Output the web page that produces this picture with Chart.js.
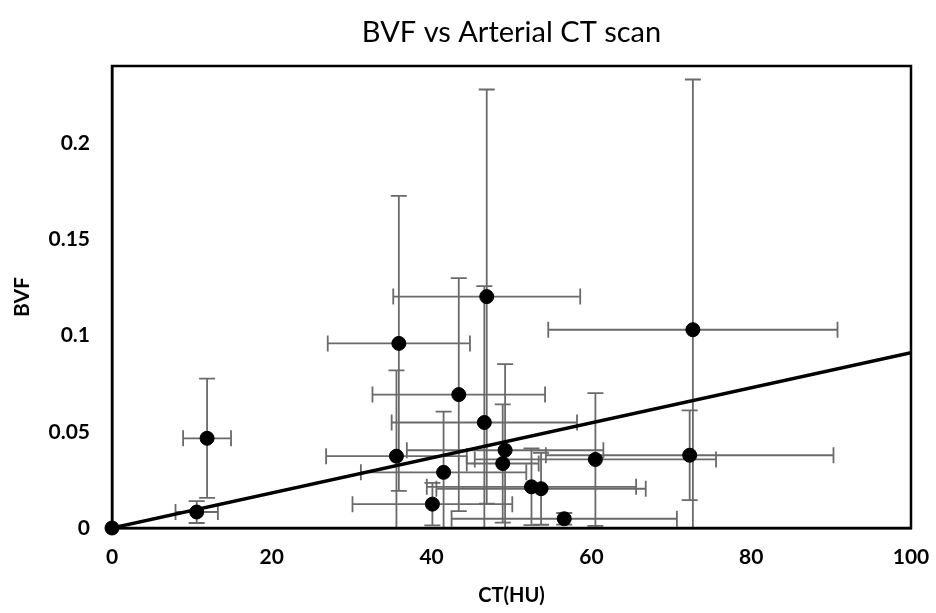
<!DOCTYPE html>
<html>
<head>
  <title>BVF vs Arterial CT scan</title>
  <script src="https://cdn.jsdelivr.net/npm/chart.js"></script>
  <style>
    body { margin: 0; background: #fff; }
    #wrap { width: 936px; height: 613px; }
  </style>
</head>
<body>
<div id="wrap"><canvas id="chart"></canvas></div>
<script>
  // CT (HU) and BVF per sample, with +/- errors
  const ctValues  = [0, 10.6, 11.9, 35.9, 43.4, 46.9, 46.6, 35.6, 41.5, 40.1, 49.2, 48.9, 52.5, 53.7, 56.6, 60.5, 72.3, 72.7];
  const bvfValues = [0, 0.0083, 0.0466, 0.0959, 0.0693, 0.1202, 0.0548, 0.0373, 0.0289, 0.0124, 0.0404, 0.0335, 0.0214, 0.0204, 0.0048, 0.0356, 0.0378, 0.1030];
  const ctErrors  = [0, 2.65, 3.0, 8.9, 10.8, 11.7, 11.6, 8.8, 10.35, 10.0, 12.3, 4.5, 13.1, 13.1, 14.1, 15.1, 18.0, 18.1];
  const bvfErrors = [0, 0.0057, 0.031, 0.0766, 0.0605, 0.1076, 0.0708, 0.0446, 0.0316, 0.011, 0.0447, 0.0307, 0.0199, 0.0187, 0.003, 0.0345, 0.0233, 0.130];

  // linear trend line through origin
  const trendX = [0, 100];
  const trendY = [0, 0.091];

  const xTicks = [0, 20, 40, 60, 80, 100];
  const yTicks = [0, 0.05, 0.1, 0.15, 0.2];

  const TITLE = 'BVF vs Arterial CT scan';
  const FONT = 'Lato, "Open Sans", sans-serif';

  const points = ctValues.map((x, i) => ({ x, y: bvfValues[i] }));
  const trend = trendX.map((x, i) => ({ x, y: trendY[i] }));

  // error bars under the markers
  const errorBars = {
    id: 'errorBars',
    beforeDatasetsDraw(chart) {
      const { ctx, chartArea: a, scales: { x, y } } = chart;
      const cap = 8;
      ctx.save();
      ctx.beginPath();
      ctx.rect(a.left, a.top, a.right - a.left, a.bottom - a.top);
      ctx.clip();
      ctx.strokeStyle = '#6a6a6a';
      ctx.lineWidth = 1.8;
      ctValues.forEach((cx, i) => {
        const px = x.getPixelForValue(cx), py = y.getPixelForValue(bvfValues[i]);
        if (bvfErrors[i]) {
          const t = y.getPixelForValue(bvfValues[i] + bvfErrors[i]);
          const b = y.getPixelForValue(bvfValues[i] - bvfErrors[i]);
          ctx.beginPath();
          ctx.moveTo(px, t); ctx.lineTo(px, b);
          ctx.moveTo(px - cap, t); ctx.lineTo(px + cap, t);
          ctx.moveTo(px - cap, b); ctx.lineTo(px + cap, b);
          ctx.stroke();
        }
        if (ctErrors[i]) {
          const l = x.getPixelForValue(cx - ctErrors[i]);
          const r = x.getPixelForValue(cx + ctErrors[i]);
          ctx.beginPath();
          ctx.moveTo(l, py); ctx.lineTo(r, py);
          ctx.moveTo(l, py - cap); ctx.lineTo(l, py + cap);
          ctx.moveTo(r, py - cap); ctx.lineTo(r, py + cap);
          ctx.stroke();
        }
      });
      ctx.restore();
    }
  };

  // black frame round the plot area, title centred over it
  const frame = {
    id: 'frame',
    beforeDatasetsDraw(chart) {
      const { ctx, chartArea: a } = chart;
      ctx.save();
      ctx.strokeStyle = '#000';
      ctx.lineWidth = 2.5;
      ctx.strokeRect(a.left, a.top, a.right - a.left, a.bottom - a.top);
      ctx.fillStyle = '#000';
      ctx.font = '29px ' + FONT;
      ctx.textAlign = 'center';
      ctx.textBaseline = 'middle';
      ctx.fillText(TITLE, (a.left + a.right) / 2, 33);
      ctx.restore();
    }
  };

  new Chart(document.getElementById('chart'), {
    type: 'scatter',
    data: {
      datasets: [
        {
          label: 'BVF',
          data: points,
          backgroundColor: '#000',
          borderColor: '#000',
          pointRadius: 7,
          pointHoverRadius: 7,
          clip: false,
          order: 1
        },
        {
          label: 'Trend',
          type: 'line',
          data: trend,
          borderColor: '#000',
          borderWidth: 3.5,
          pointRadius: 0,
          fill: false,
          order: 2
        }
      ]
    },
    options: {
      responsive: true,
      maintainAspectRatio: false,
      animation: false,
      layout: { padding: { left: 0, right: 25, top: 66, bottom: 0 } },
      plugins: {
        legend: { display: false },
        tooltip: { enabled: false },
        title: { display: false }
      },
      scales: {
        x: {
          type: 'linear',
          min: 0, max: 100,
          afterBuildTicks: s => { s.ticks = xTicks.map(v => ({ value: v })); },
          afterFit: s => { s.height = 85; s.paddingLeft = 0; s.paddingRight = 0; },
          grid: { display: false, drawTicks: false },
          border: { display: true, color: '#000', width: 2.5 },
          ticks: { color: '#000', padding: 17, font: { family: FONT, size: 21, weight: 'bold' } },
          title: {
            display: true, text: 'CT(HU)', color: '#000',
            font: { family: FONT, size: 20, weight: 'bold' },
            padding: { top: 4, bottom: 5 }
          }
        },
        y: {
          type: 'linear',
          min: 0, max: 0.24,
          afterBuildTicks: s => { s.ticks = yTicks.map(v => ({ value: v })); },
          afterFit: s => { s.width = 112; s.paddingTop = 0; s.paddingBottom = 0; },
          grid: { display: false, drawTicks: false },
          border: { display: true, color: '#000', width: 2.5 },
          ticks: {
            color: '#000', padding: 22,
            font: { family: FONT, size: 21, weight: 'bold' },
            callback: v => String(+v.toFixed(2))
          },
          title: {
            display: true, text: 'BVF', color: '#000',
            font: { family: FONT, size: 21, weight: 'bold' },
            padding: { top: 10, bottom: 0 }
          }
        }
      }
    },
    plugins: [errorBars, frame]
  });
</script>
</body>
</html>
